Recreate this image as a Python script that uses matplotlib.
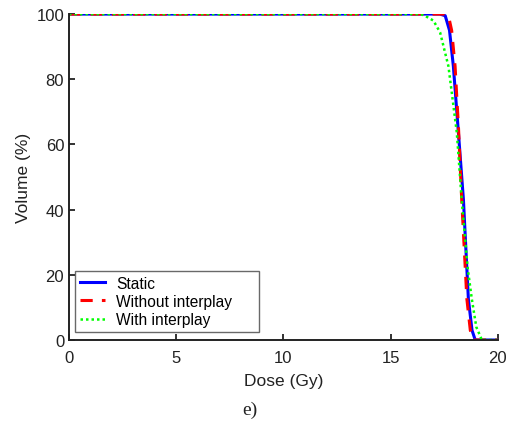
import matplotlib

matplotlib.use("Agg")
import matplotlib.pyplot as plt
import numpy as np

# dose-volume curves
static_dose = [0.0, 17.3, 17.55, 17.75, 17.93, 18.15, 18.40, 18.63, 18.80, 18.95, 20.0]
static_vol = [100, 100, 99.5, 95, 84, 65, 43, 12.6, 3, 0, 0]

noint_dose = [0.0, 17.5, 17.70, 17.85, 18.01, 18.17, 18.32, 18.56, 18.72, 18.87, 20.0]
noint_vol = [100, 100, 99.5, 95, 84, 65, 43, 12.6, 3, 0, 0]

withint_dose = [0.0, 16.4, 16.6, 17.0, 17.31, 17.70, 18.09, 18.32, 18.60, 18.79, 19.0, 19.26, 20.0]
withint_vol = [100, 100, 99.5, 98, 94.4, 84, 63.7, 43, 22, 12.6, 4, 0, 0]

x_ticks = [0, 5, 10, 15, 20]
y_ticks = [0, 20, 40, 60, 80, 100]

plt.rcParams["font.family"] = ["Liberation Sans", "DejaVu Sans"]

fig = plt.figure(figsize=(5.08, 4.31), dpi=100)
ax = fig.add_axes([0.1358, 0.2088, 0.844, 0.7562])

ax.plot(static_dose, static_vol, color="#0000ff", lw=2.2, label="Static")
ax.plot(noint_dose, noint_vol, color="#ff0000", lw=2.2, ls=(0, (4, 3)), label="Without interplay")
ax.plot(withint_dose, withint_vol, color="#00ff00", lw=1.8, ls=(0, (1, 1.2)), label="With interplay")

ax.set_xlim(0, 20)
ax.set_ylim(0, 100)
ax.set_xticks(x_ticks)
ax.set_yticks(y_ticks)
ax.tick_params(direction="in", length=4, width=1.3, labelsize=12, colors="#222222")
ax.tick_params(axis="x", pad=7)
ax.tick_params(axis="y", pad=3.5)
for side in ("top", "right"):
    ax.spines[side].set_visible(False)
for side in ("left", "bottom"):
    ax.spines[side].set_linewidth(1.4)
    ax.spines[side].set_color("#222222")

ax.set_xlabel("Dose (Gy)", fontsize=12.5, color="#222222", labelpad=6)
ax.set_ylabel("Volume (%)", fontsize=12.5, color="#222222", labelpad=4)

# box stretched to the width seen in the reference
leg = ax.legend(loc="lower left", bbox_to_anchor=(0.014, 0.0245, 0.429, 0.2),
                mode="expand", fontsize=11.2, frameon=True, fancybox=False,
                borderaxespad=0.0, handlelength=1.6, handletextpad=0.75,
                labelspacing=0.22, borderpad=0.3)
leg.get_frame().set_edgecolor("#444444")
leg.get_frame().set_linewidth(1.0)

fig.text(0.492, 0.048, "e)", family=["Liberation Serif"], fontsize=14,
         ha="center", va="center", color="#222222")

fig.savefig("out.png", dpi=100)
